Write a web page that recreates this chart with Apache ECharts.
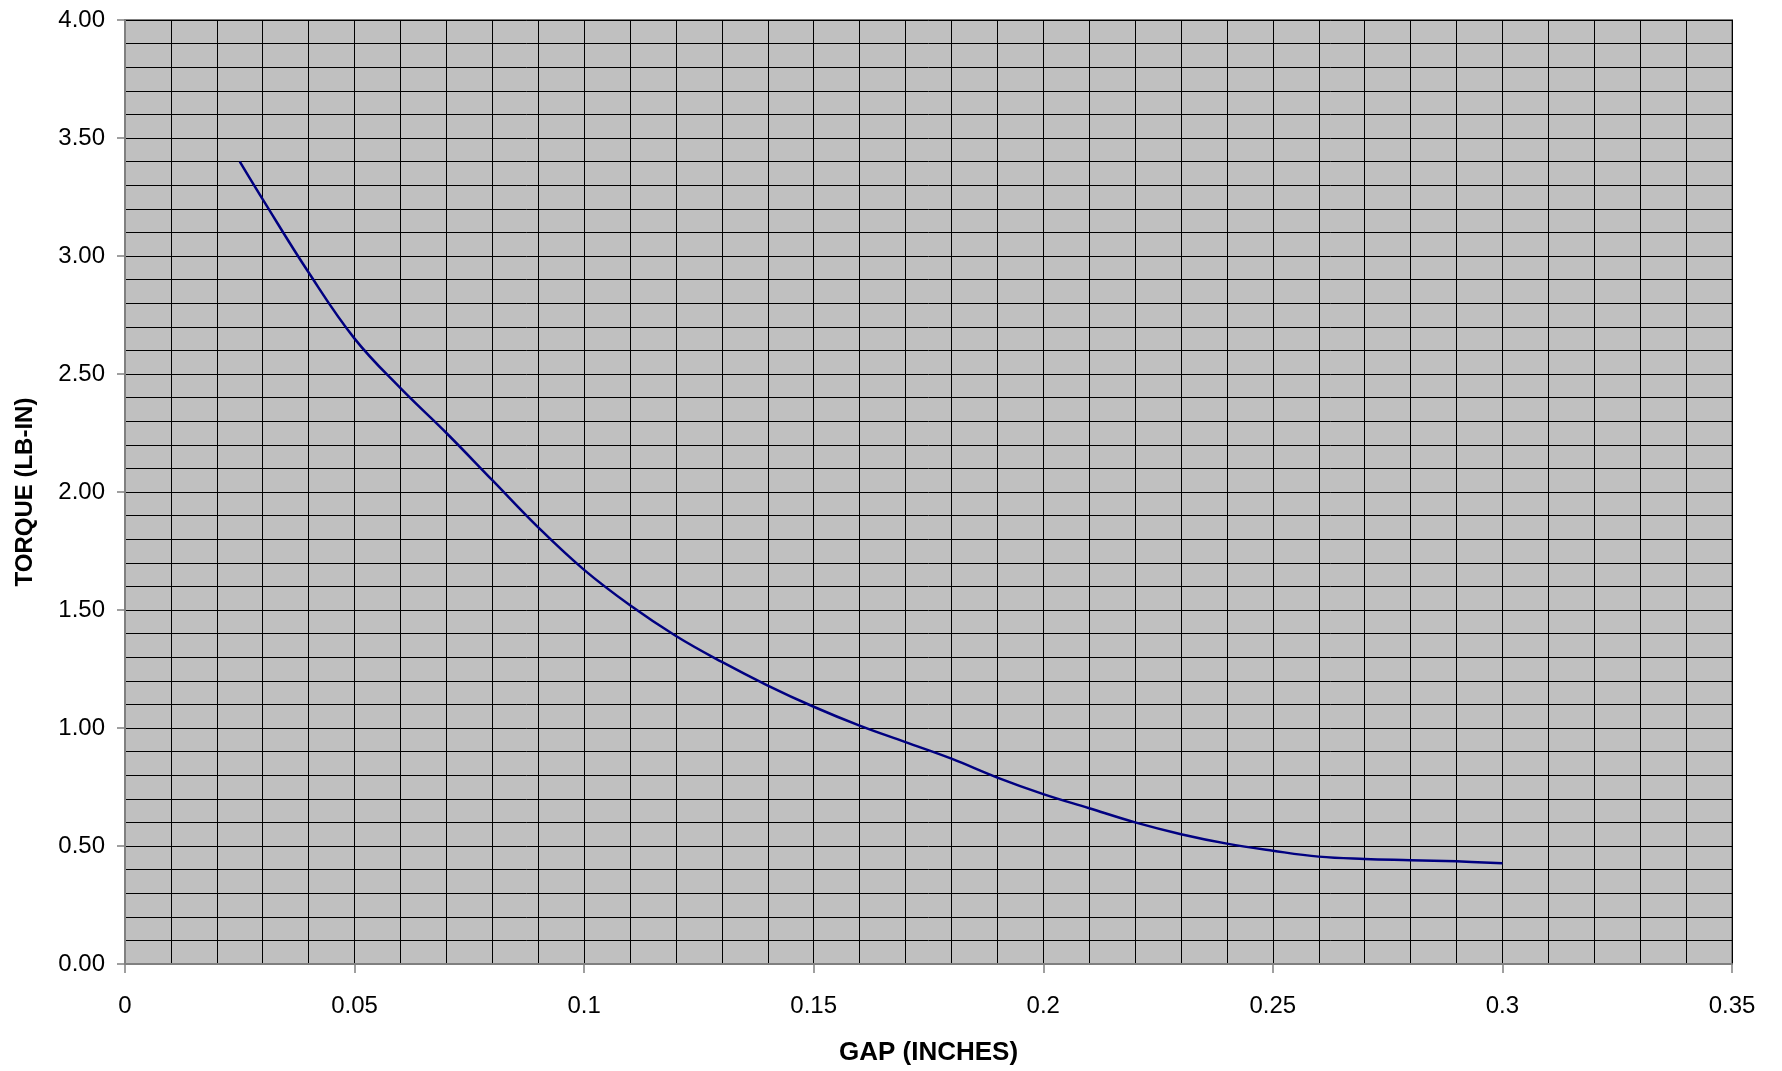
<!DOCTYPE html>
<html>
<head>
<meta charset="utf-8">
<script src="https://cdn.jsdelivr.net/npm/echarts@6/dist/echarts.min.js"></script>
<style>html,body{margin:0;padding:0;background:#fff;}#c{width:1782px;height:1071px;}</style>
</head>
<body>
<div id="c"></div>
<script>
const gapInches = [0.025, 0.03, 0.04, 0.05, 0.06, 0.07, 0.08, 0.09, 0.10, 0.11, 0.12, 0.13, 0.14, 0.15, 0.16, 0.17, 0.18, 0.19, 0.20, 0.21, 0.22, 0.23, 0.24, 0.25, 0.26, 0.27, 0.28, 0.29, 0.30];
const torqueLbIn = [3.40, 3.24, 2.93, 2.65, 2.44, 2.25, 2.05, 1.85, 1.67, 1.52, 1.39, 1.28, 1.18, 1.09, 1.01, 0.94, 0.87, 0.79, 0.72, 0.66, 0.60, 0.55, 0.51, 0.48, 0.455, 0.445, 0.44, 0.435, 0.427];
const xTitle = 'GAP (INCHES)';
const yTitle = 'TORQUE (LB-IN)';

const chart = echarts.init(document.getElementById('c'), null, {renderer: 'canvas'});
const font = 'Liberation Sans, Arial, sans-serif';
chart.setOption({
  animation: false,
  backgroundColor: '#ffffff',
  grid: {left: 125, right: 50, top: 20, bottom: 102, show: true, backgroundColor: '#C0C0C0', borderColor: '#808080', borderWidth: 2},
  xAxis: {
    type: 'value', min: 0, max: 0.35, interval: 0.05,
    name: xTitle, nameLocation: 'middle', nameGap: 76,
    nameTextStyle: {fontFamily: font, fontSize: 26, fontWeight: 'bold', color: '#000'},
    axisLine: {show: true, lineStyle: {color: '#808080', width: 2}},
    axisTick: {show: true, length: 9, lineStyle: {color: '#808080', width: 1.5}},
    axisLabel: {fontFamily: font, fontSize: 24, color: '#000', margin: 30, formatter: v => String(+v.toFixed(2))},
    splitLine: {show: true, lineStyle: {color: '#000', width: 1}},
    minorTick: {show: false, splitNumber: 5},
    minorSplitLine: {show: true, lineStyle: {color: '#000', width: 1}}
  },
  yAxis: {
    type: 'value', min: 0, max: 4, interval: 0.5,
    name: yTitle, nameLocation: 'middle', nameGap: 88, nameRotate: 90,
    nameTextStyle: {fontFamily: font, fontSize: 24, fontWeight: 'bold', color: '#000'},
    axisLine: {show: true, lineStyle: {color: '#808080', width: 2}},
    axisTick: {show: true, length: 8, lineStyle: {color: '#808080', width: 1.5}},
    axisLabel: {fontFamily: font, fontSize: 24, color: '#000', margin: 20, formatter: v => v.toFixed(2)},
    splitLine: {show: true, lineStyle: {color: '#000', width: 1}},
    minorTick: {show: false, splitNumber: 5},
    minorSplitLine: {show: true, lineStyle: {color: '#000', width: 1}}
  },
  series: [{
    type: 'line',
    data: gapInches.map((x, i) => [x, torqueLbIn[i]]),
    showSymbol: false,
    smooth: 0.4,
    lineStyle: {color: '#000080', width: 2.5}
  }]
});
</script>
</body>
</html>
